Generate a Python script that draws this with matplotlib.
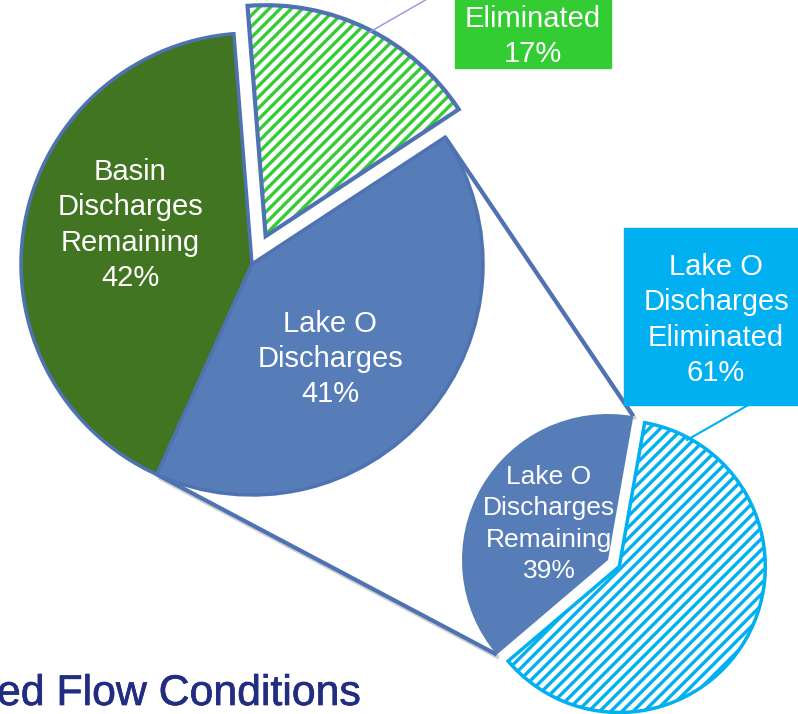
import matplotlib
matplotlib.use('Agg')
import matplotlib.pyplot as plt
import matplotlib.patheffects as pe
from matplotlib.patches import Wedge, Rectangle
import numpy as np

# ---- data ----
main_labels = ['Basin\nDischarges\nRemaining', 'Lake O\nDischarges', 'Basin\nDischarges\nEliminated']
main_values = [42, 41, 17]
sub_labels = ['Lake O\nDischarges\nRemaining', 'Lake O\nDischarges\nEliminated']
sub_values = [39, 61]
title_text = 'ed Flow Conditions'

W, H = 798, 714
plt.rcParams['hatch.linewidth'] = 2.4
FONT = 'Liberation Sans'

fig = plt.figure(figsize=(W / 100, H / 100), dpi=100)
ax = fig.add_axes([0, 0, 1, 1])

BLUE = '#567DB8'
EDGE = '#4F73B2'
DKGREEN = '#417522'
LTGREEN = '#33CC33'
CYAN = '#00B0F0'
NAVY = '#222C80'


def py(y):
    return H - y


# ---- main pie ----
big_w, _ = ax.pie(main_values, center=(252, py(264)), radius=231, startangle=94.5,
                  counterclock=True, explode=[0, 0, 31],
                  colors=[DKGREEN, BLUE, 'white'],
                  wedgeprops=dict(edgecolor=EDGE, linewidth=2.5))
hw = big_w[2]
hw.set_hatch('///')
hw.set_edgecolor(LTGREEN)
hw.set_linewidth(0)
ax.add_patch(Wedge(hw.center, hw.r, hw.theta1, hw.theta2, fill=False,
                   edgecolor=EDGE, linewidth=3, zorder=2))

# ---- sub pie ----
sub_w, _ = ax.pie(sub_values, center=(608, py(560)), radius=146, startangle=80,
                  counterclock=True, explode=[0, 13],
                  colors=[BLUE, 'white'],
                  wedgeprops=dict(linewidth=0))
sub_w[0].set_edgecolor(BLUE)
sw = sub_w[1]
sw.set_hatch('///')
sw.set_edgecolor(CYAN)
sw.set_linewidth(2.5)
sw.set_zorder(3)


def pt(w, ang):
    a = np.deg2rad(ang)
    return w.center[0] + w.r * np.cos(a), w.center[1] + w.r * np.sin(a)


# connector lines
lo = big_w[1]
rem = sub_w[0]
for a_big, a_sub in [(lo.theta2, rem.theta1), (lo.theta1, rem.theta2)]:
    x0, y0 = pt(lo, a_big)
    x1, y1 = pt(rem, a_sub)
    ax.plot([x0 + 2, x1 + 2], [y0 - 3, y1 - 3], color='#d0d0d0', lw=3, zorder=0.5,
            solid_capstyle='butt')
    ax.plot([x0, x1], [y0, y1], color=EDGE, lw=3, zorder=0.8, solid_capstyle='butt')

# ---- labels ----
txt = dict(color='white', ha='center', va='center', family=FONT)
ax.text(130, py(225), f'{main_labels[0]}\n{main_values[0]}%', fontsize=21,
        linespacing=1.34, zorder=5, **txt)
ax.text(330, py(359), f'{main_labels[1]}\n{main_values[1]}%', fontsize=21,
        linespacing=1.34, zorder=5, **txt)
ax.text(549, py(524), f'{sub_labels[0]}\n{sub_values[0]}%', fontsize=19,
        linespacing=1.40, zorder=2, **txt)

# callout boxes
ax.add_patch(Rectangle((455, py(68)), 156, 120, color=LTGREEN, zorder=4))
ax.text(533, py(1), f'{main_labels[2]}\n{main_values[2]}%', fontsize=21,
        linespacing=1.34, zorder=5, **txt)
ax.plot([368, 455], [py(33), py(-17)], color='#9494E0', lw=1, zorder=4)

ax.add_patch(Rectangle((624, py(405)), 180, 177, color=CYAN, zorder=4))
ax.text(716, py(320), f'{sub_labels[1]}\n{sub_values[1]}%', fontsize=21,
        linespacing=1.34, zorder=5, **txt)
ax.plot([750, 687], [py(404), py(440)], color=CYAN, lw=1.5, zorder=4)

# title fragment
ax.text(-3, py(705), title_text, fontsize=30.8, color=NAVY, family=FONT,
        ha='left', va='baseline', zorder=5,
        path_effects=[pe.withStroke(linewidth=0.5, foreground=NAVY)])

ax.set_xlim(0, W)
ax.set_ylim(0, H)
ax.set_aspect('equal')
ax.axis('off')
fig.savefig('out.png', dpi=100)
